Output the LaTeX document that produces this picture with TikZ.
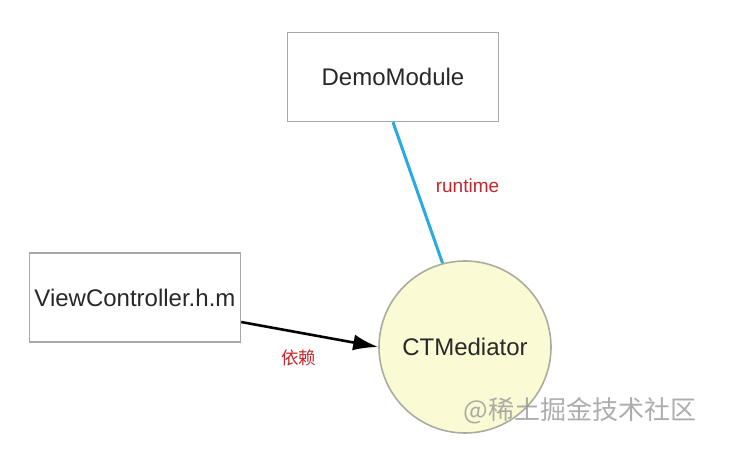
\documentclass[tikz,border=0pt]{standalone}
\usepackage{fontspec}
\setmainfont{Liberation Sans}
\newfontfamily\cjk{Noto Sans CJK SC}
\usetikzlibrary{arrows.meta, positioning, calc}
\definecolor{boxline}{RGB}{168,168,168}
\definecolor{medfill}{RGB}{250,250,212}
\definecolor{medline}{RGB}{172,172,158}
\definecolor{linkblue}{RGB}{41,171,226}
\definecolor{lblred}{RGB}{195,38,42}
\definecolor{txt}{RGB}{40,40,40}
\tikzset{
  module/.style = {draw=boxline, line width=1.5pt, rectangle, fill=white,
                   align=center, text=txt, inner sep=0pt,
                   font=\fontsize{24}{28}\selectfont,
                   minimum width=211pt, minimum height=89pt},
  hub/.style    = {draw=medline, line width=1.6pt, circle, fill=medfill,
                   text=txt, inner sep=0pt, minimum size=172pt,
                   font=\fontsize{24}{28}\selectfont},
  dep/.style    = {-{Latex[length=25pt, width=16pt]}, line width=2.6pt},
  rt/.style     = {draw=linkblue, line width=3pt},
  lbl/.style    = {text=lblred, inner sep=0pt},
  wmark/.style  = {text=black!40, opacity=0.8, inner sep=0pt,
                   font=\cjk\fontsize{26}{30}\selectfont}
}

\begin{document}
\begin{tikzpicture}

  \useasboundingbox (0,0) rectangle (730pt,458pt);

  % ── Mediator (centre) ─────────────────────────────────────────────────────
  \node[hub] (med) at (465pt,111pt) {CTMediator};

  % ── Modules ───────────────────────────────────────────────────────────────
  \node[module, above=138pt of med, xshift=-72pt]  (demo) {DemoModule};
  \node[module, left=137pt of med, yshift=49.5pt]  (vc)   {ViewController.h.m};

  % ── Connections ───────────────────────────────────────────────────────────
  \draw[rt] (demo.south) -- node[lbl, right=19pt, pos=0.45,
        font=\fontsize{19}{22}\selectfont]{runtime} (med.105);
  \draw[dep] (vc.-13) -- node[lbl, below=16pt, pos=0.42,
        font=\cjk\fontsize{17.5}{20}\selectfont]{依赖} (med.west);

  % watermark
  \node[wmark] (wm) at (580pt,47pt) {@稀土掘金技术社区};

\end{tikzpicture}
\end{document}
